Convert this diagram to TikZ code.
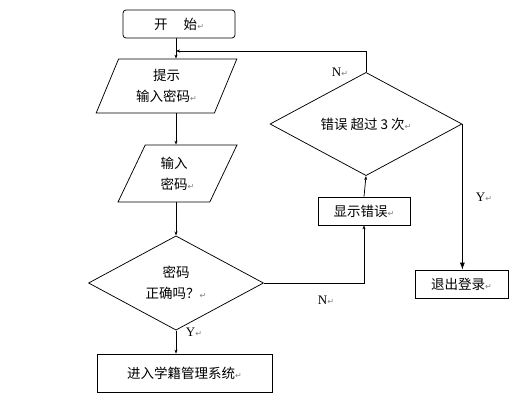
\documentclass[tikz,border=0pt]{standalone}
\usepackage{fontspec}
\setmainfont{Liberation Serif}
\newfontfamily\cjk{Noto Sans CJK SC}
\newfontfamily\symfont{DejaVu Sans}
\usetikzlibrary{arrows.meta,shapes.geometric}
\newcommand{\pmark}{{\symfont\fontsize{8}{8}\selectfont\color{gray}↵}}

\begin{document}
\begin{tikzpicture}[
  x=1pt, y=-1pt,
  >={Stealth[length=4pt,width=3pt]},
  font=\cjk\fontsize{13.5}{21}\selectfont,
  line width=0.75pt,
  box/.style={draw, rectangle, inner sep=0pt},
  slant/.style={draw, trapezium, trapezium left angle=67, trapezium right angle=113, trapezium stretches=true, inner sep=0pt},
  decide/.style={draw, diamond, inner sep=0pt, align=center},
  lbl/.style={font=\rmfamily\fontsize{13}{13}\selectfont, inner sep=0pt},
  arr/.style={->}
]
\useasboundingbox (0,0) rectangle (514,405);
\coordinate (col) at (176,0);
\coordinate (back) at (176,51);

\node[box, rounded corners=3pt, minimum width=112pt, minimum height=28pt] (start) at (179,24) {开\hspace{1.2em}始\pmark};
\node[slant, minimum width=141pt, minimum height=54pt, align=center] (hint) at (166.5,86) {提示\\输入密码\pmark};
\node[slant, minimum width=119pt, minimum height=57pt, align=left] (pwd) at (177.5,173.5) {输入\\密码\pmark};
\node[decide, minimum width=175pt, minimum height=87pt] (check) at (176,283) {密码\\正确吗？\pmark};
\node[box, minimum width=175pt, minimum height=38pt] (enter) at (184.5,373) {进入学籍管理系统\pmark};
\node[box, minimum width=92pt, minimum height=28pt] (err) at (364,211) {显示错误\pmark};
\node[decide, minimum width=192pt, minimum height=62pt] (tries) at (366,124) {错误 超过 3 次\pmark};
\node[box, minimum width=93pt, minimum height=28pt] (quit) at (461.5,284) {退出登录\pmark};

% branch labels
\node[lbl] (n1) at (340,72) {N\pmark};
\node[lbl] (y1) at (194,332) {Y\pmark};
\node[lbl] (n2) at (326,300) {N\pmark};
\node[lbl] (y2) at (484,197) {Y\pmark};

\draw[arr] (col |- start.south) -- (col |- hint.north);
\draw[arr] (col |- hint.south) -- (col |- pwd.north);
\draw[arr] (col |- pwd.south) -- (check.north);
\draw[arr] (check.south) -- (check.south |- enter.north);
\draw[arr] (check.east) -- (check.east -| err.south) -- (err.south);
\draw[arr] (err.north) -- (tries.south);
\draw[arr] (tries.north) |- (back);
\draw[-{Latex[length=7pt,width=5pt]}] (tries.east) -- (tries.east |- quit.north);
\end{tikzpicture}
\end{document}
